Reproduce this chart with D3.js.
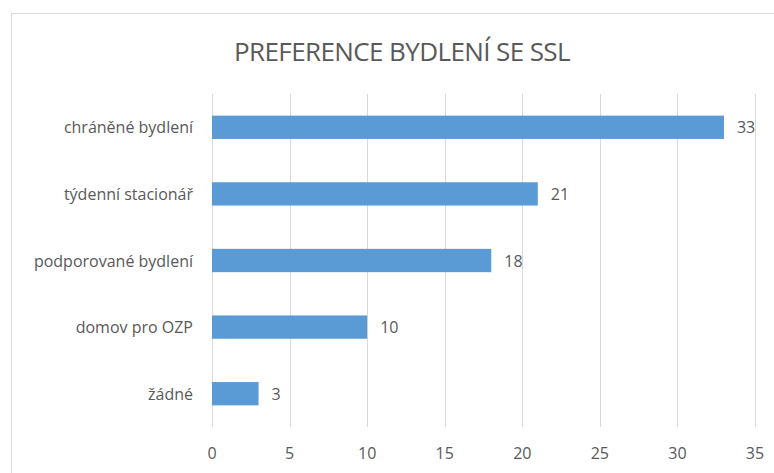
<!DOCTYPE html>
<html>
<head>
<meta charset="utf-8">
<script src="https://cdn.jsdelivr.net/npm/d3@7"></script>
<style>
	body { margin: 0; background: #fff; }
	text { font-family: "Open Sans", sans-serif; fill: #595959; }
</style>
</head>
<body>
<div id="chart"></div>
<script>
// data
var categories = ['chráněné bydlení', 'týdenní stacionář', 'podporované bydlení', 'domov pro OZP', 'žádné']
var values = [33, 21, 18, 10, 3]
var ticks = [0, 5, 10, 15, 20, 25, 30, 35]
var title = 'PREFERENCE BYDLENÍ SE SSL'

var width = 774, height = 473
var margin = {top: 94, left: 212, right: 19, bottom: 46}

var svg = d3.select('#chart').append('svg').attr('width', width).attr('height', height)

// chart frame
svg.append('rect').attr('x', 11.5).attr('y', 13.5).attr('width', 800).attr('height', 500)
	.attr('fill', 'none').attr('stroke', '#d9d9d9')

svg.append('text').attr('x', 402).attr('y', 61).attr('text-anchor', 'middle')
	.style('font-size', '26px').style('letter-spacing', '-0.6px').text(title)

var x = d3.scaleLinear().domain([0, 35]).range([margin.left, width - margin.right])
var y = d3.scaleBand().domain(categories).range([margin.top, height - margin.bottom]).paddingInner(0.65).paddingOuter(0.325)

var g = svg.append('g')

// gridlines
g.selectAll('.grid').data(ticks).enter().append('line')
	.attr('x1', function(d) { return Math.round(x(d)) + 0.5 })
	.attr('x2', function(d) { return Math.round(x(d)) + 0.5 })
	.attr('y1', margin.top).attr('y2', height - margin.bottom)
	.attr('stroke', '#d9d9d9').attr('stroke-width', 1)

// x tick labels
g.selectAll('.tick').data(ticks).enter().append('text')
	.attr('x', function(d) { return x(d) }).attr('y', 459)
	.attr('text-anchor', 'middle').style('font-size', '16px')
	.text(function(d) { return d })

// bars
g.selectAll('.bar').data(values).enter().append('rect')
	.attr('x', x(0))
	.attr('y', function(d, i) { return y(categories[i]) })
	.attr('width', function(d) { return x(d) - x(0) })
	.attr('height', y.bandwidth())
	.attr('fill', '#5b9bd5')

// value labels
g.selectAll('.val').data(values).enter().append('text')
	.attr('x', function(d) { return x(d) + 13 })
	.attr('y', function(d, i) { return y(categories[i]) + y.bandwidth() / 2 + 6 })
	.style('font-size', '16px')
	.text(function(d) { return d })

// category labels
g.selectAll('.cat').data(categories).enter().append('text')
	.attr('x', 193)
	.attr('y', function(d) { return y(d) + y.bandwidth() / 2 + 6 })
	.attr('text-anchor', 'end').style('font-size', '16px')
	.text(function(d) { return d })
</script>
</body>
</html>
